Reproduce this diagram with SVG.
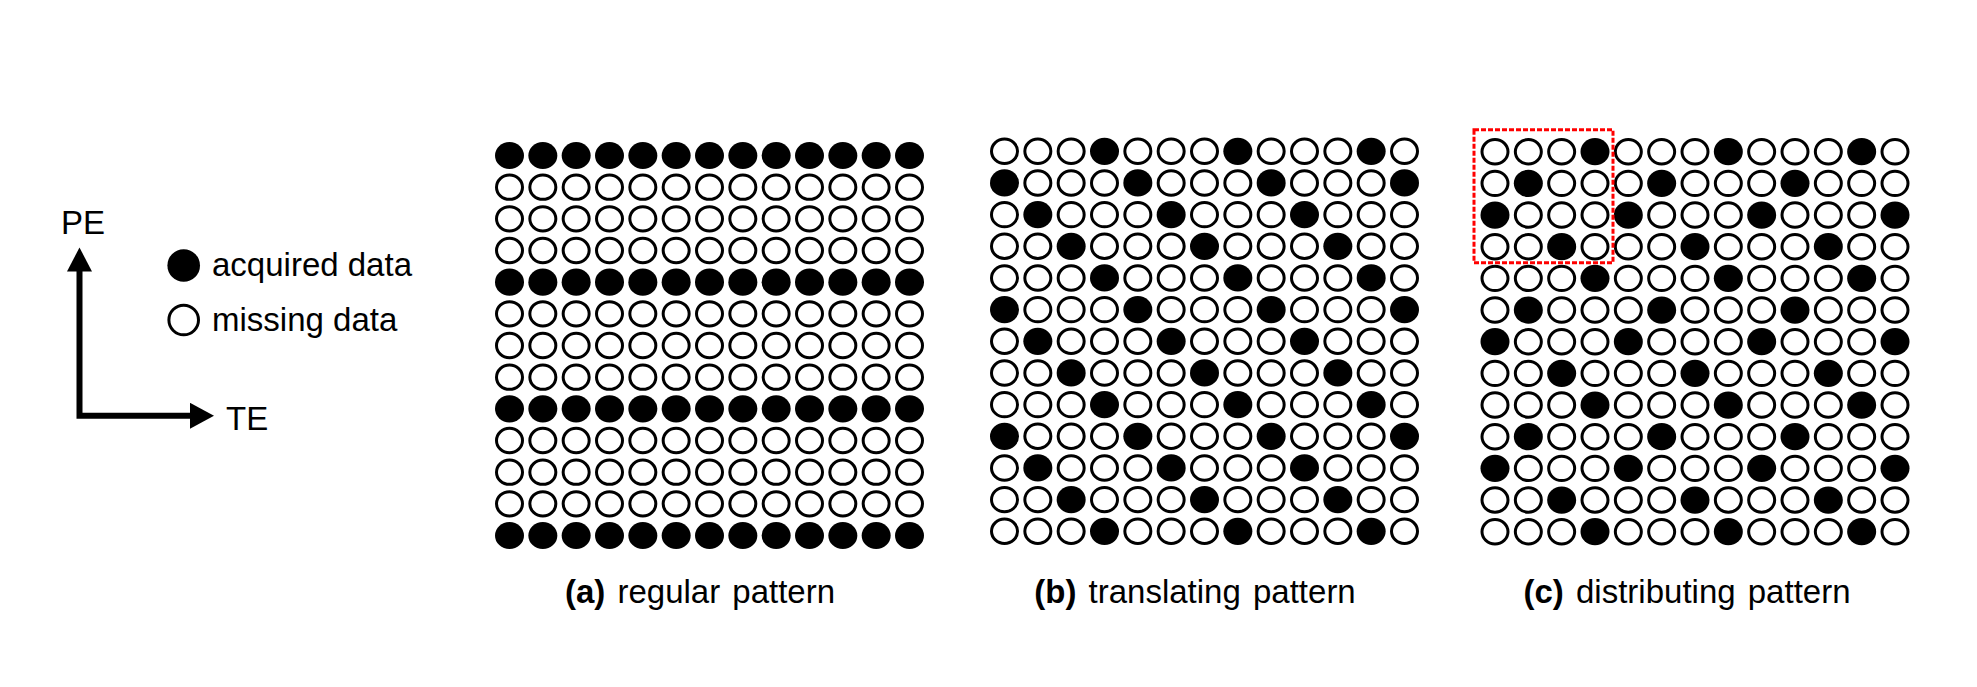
<svg xmlns="http://www.w3.org/2000/svg" xmlns:xlink="http://www.w3.org/1999/xlink" width="1977" height="687" viewBox="0 0 1977 687">
<style>
text{font-family:"Liberation Sans",Arial,sans-serif;font-size:33px;fill:#000}
.lbl{text-anchor:middle;word-spacing:3px}
.b{font-weight:bold}
.ax{fill:none;stroke:#000;stroke-width:6;stroke-linejoin:miter;stroke-linecap:butt}
</style>
<defs>
<ellipse id="o" rx="13" ry="12.2" fill="#fff" stroke="#000" stroke-width="3"/>
<ellipse id="f" rx="14.5" ry="13.6" fill="#000"/>
<marker id="ah" markerWidth="24" markerHeight="26" refX="0" refY="13" orient="auto" markerUnits="userSpaceOnUse">
<path d="M0,0 L24,13 L0,26 Z" fill="#000"/>
</marker>
<g id="rF"><use href="#f" x="0"/><use href="#f" x="33.333"/><use href="#f" x="66.667"/><use href="#f" x="100"/><use href="#f" x="133.333"/><use href="#f" x="166.667"/><use href="#f" x="200"/><use href="#f" x="233.333"/><use href="#f" x="266.667"/><use href="#f" x="300"/><use href="#f" x="333.333"/><use href="#f" x="366.667"/><use href="#f" x="400"/></g>
<g id="rO"><use href="#o" x="0"/><use href="#o" x="33.333"/><use href="#o" x="66.667"/><use href="#o" x="100"/><use href="#o" x="133.333"/><use href="#o" x="166.667"/><use href="#o" x="200"/><use href="#o" x="233.333"/><use href="#o" x="266.667"/><use href="#o" x="300"/><use href="#o" x="333.333"/><use href="#o" x="366.667"/><use href="#o" x="400"/></g>
<g id="r0"><use href="#f" x="0"/><use href="#o" x="33.333"/><use href="#o" x="66.667"/><use href="#o" x="100"/><use href="#f" x="133.333"/><use href="#o" x="166.667"/><use href="#o" x="200"/><use href="#o" x="233.333"/><use href="#f" x="266.667"/><use href="#o" x="300"/><use href="#o" x="333.333"/><use href="#o" x="366.667"/><use href="#f" x="400"/></g>
<g id="r1"><use href="#o" x="0"/><use href="#f" x="33.333"/><use href="#o" x="66.667"/><use href="#o" x="100"/><use href="#o" x="133.333"/><use href="#f" x="166.667"/><use href="#o" x="200"/><use href="#o" x="233.333"/><use href="#o" x="266.667"/><use href="#f" x="300"/><use href="#o" x="333.333"/><use href="#o" x="366.667"/><use href="#o" x="400"/></g>
<g id="r2"><use href="#o" x="0"/><use href="#o" x="33.333"/><use href="#f" x="66.667"/><use href="#o" x="100"/><use href="#o" x="133.333"/><use href="#o" x="166.667"/><use href="#f" x="200"/><use href="#o" x="233.333"/><use href="#o" x="266.667"/><use href="#o" x="300"/><use href="#f" x="333.333"/><use href="#o" x="366.667"/><use href="#o" x="400"/></g>
<g id="r3"><use href="#o" x="0"/><use href="#o" x="33.333"/><use href="#o" x="66.667"/><use href="#f" x="100"/><use href="#o" x="133.333"/><use href="#o" x="166.667"/><use href="#o" x="200"/><use href="#f" x="233.333"/><use href="#o" x="266.667"/><use href="#o" x="300"/><use href="#o" x="333.333"/><use href="#f" x="366.667"/><use href="#o" x="400"/></g>
</defs>
<rect width="1977" height="687" fill="#fff"/>

<g id="axes">
<path class="ax" d="M79.5,271 L79.5,415.8 L190,415.8" marker-end="url(#ah)"/>
<path d="M79.5,247.5 L92,271.5 L67,271.5 Z" fill="#000"/>
<text x="61" y="234">PE</text>
<text x="226" y="430">TE</text>
</g>

<g id="legend">
<circle cx="183.7" cy="265.5" r="16.3" fill="#000"/>
<text x="212" y="276">acquired data</text>
<circle cx="183.7" cy="320" r="14.8" fill="#fff" stroke="#000" stroke-width="3"/>
<text x="212" y="331">missing data</text>
</g>

<g id="panel-a" transform="translate(509.5,155.5)">
<use href="#rF" y="0"/><use href="#rO" y="31.667"/><use href="#rO" y="63.333"/><use href="#rO" y="95"/>
<use href="#rF" y="126.667"/><use href="#rO" y="158.333"/><use href="#rO" y="190"/><use href="#rO" y="221.667"/>
<use href="#rF" y="253.333"/><use href="#rO" y="285"/><use href="#rO" y="316.667"/><use href="#rO" y="348.333"/>
<use href="#rF" y="380"/>
</g>
<text id="label-a" class="lbl" x="700" y="603"><tspan class="b">(a)</tspan> regular pattern</text>

<g id="panel-b" transform="translate(1004.5,151.3)">
<use href="#r3" y="0"/><use href="#r0" y="31.667"/><use href="#r1" y="63.333"/><use href="#r2" y="95"/>
<use href="#r3" y="126.667"/><use href="#r0" y="158.333"/><use href="#r1" y="190"/><use href="#r2" y="221.667"/>
<use href="#r3" y="253.333"/><use href="#r0" y="285"/><use href="#r1" y="316.667"/><use href="#r2" y="348.333"/>
<use href="#r3" y="380"/>
</g>
<text id="label-b" class="lbl" x="1195" y="603"><tspan class="b">(b)</tspan> translating pattern</text>

<g id="panel-c" transform="translate(1495,151.7)">
<use href="#r3" y="0"/><use href="#r1" y="31.667"/><use href="#r0" y="63.333"/><use href="#r2" y="95"/>
<use href="#r3" y="126.667"/><use href="#r1" y="158.333"/><use href="#r0" y="190"/><use href="#r2" y="221.667"/>
<use href="#r3" y="253.333"/><use href="#r1" y="285"/><use href="#r0" y="316.667"/><use href="#r2" y="348.333"/>
<use href="#r3" y="380"/>
</g>
<rect id="highlight" x="1474" y="129.8" width="139" height="133" fill="none" stroke="#f00" stroke-width="3" stroke-dasharray="5 2"/>
<text id="label-c" class="lbl" x="1687" y="603"><tspan class="b">(c)</tspan> distributing pattern</text>
</svg>
